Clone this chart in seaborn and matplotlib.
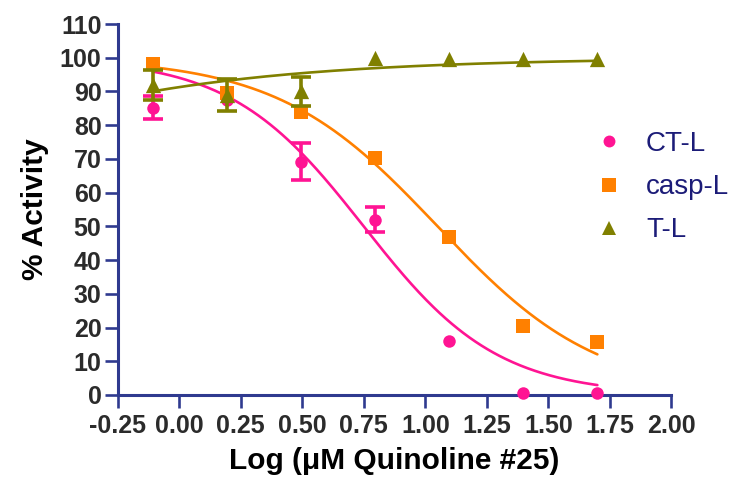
import numpy as np
import pandas as pd
import matplotlib
matplotlib.use("Agg")
import matplotlib.pyplot as plt
import seaborn as sns
from matplotlib.lines import Line2D

# ---- data ----
log_conc = [-0.107, 0.193, 0.495, 0.796, 1.097, 1.398, 1.699]
series_names = ["CT-L", "casp-L", "T-L"]
ctl_mean = [85.2, 87.5, 69.2, 52.0, 16.0, 0.5, 0.5]
ctl_err = [3.4, 0.0, 5.5, 3.7, 0.0, 0.0, 0.0]
casp_mean = [98.0, 89.5, 84.0, 70.4, 46.8, 20.6, 15.6]
casp_err = [0.0, 0.0, 0.0, 0.0, 0.0, 0.0, 0.0]
tl_mean = [92.0, 89.0, 90.0, 100.0, 99.6, 99.6, 99.6]
tl_err = [4.4, 4.7, 4.2, 0.0, 0.0, 0.0, 0.0]

# four-parameter logistic fit parameters: top, bottom, logEC50, hill slope
ctl_fit = [100.0, 0.0, 0.75, -1.6]
casp_fit = [100.0, 0.0, 1.05, -1.33]
tl_fit = [100.0, 0.0, -1.7, 0.6]

x_ticks = [-0.25, 0.00, 0.25, 0.50, 0.75, 1.00, 1.25, 1.50, 1.75, 2.00]
y_ticks = list(range(0, 111, 10))

colors = {"CT-L": "#FF1493", "casp-L": "#FF8000", "T-L": "#808000"}
markers = {"CT-L": "o", "casp-L": "s", "T-L": "^"}
msizes = {"CT-L": 9.0, "casp-L": 10.0, "T-L": 11.0}

means = {"CT-L": ctl_mean, "casp-L": casp_mean, "T-L": tl_mean}
errs = {"CT-L": ctl_err, "casp-L": casp_err, "T-L": tl_err}
fits = {"CT-L": ctl_fit, "casp-L": casp_fit, "T-L": tl_fit}

pts = pd.concat([pd.DataFrame({"x": log_conc, "y": means[s], "err": errs[s], "series": s})
                 for s in series_names], ignore_index=True)


def logistic(x, p):
    top, bottom, logec, hill = p
    return bottom + (top - bottom) / (1.0 + 10 ** ((logec - x) * hill))


xs = np.linspace(min(log_conc), max(log_conc), 300)
curves = pd.concat([pd.DataFrame({"x": xs, "y": logistic(xs, fits[s]), "series": s})
                    for s in series_names], ignore_index=True)

# ---- style ----
sns.set_style("ticks")
plt.rcParams["font.family"] = ["Liberation Sans", "DejaVu Sans"]
axis_col = "#2F3A8F"
tick_txt = "#2b2b2b"

fig = plt.figure(figsize=(7.4, 4.84), dpi=100)
ax = fig.add_axes([0.1588, 0.1839, 0.9074 - 0.1588, 0.9504 - 0.1839])

for i, s in enumerate(series_names):
    z = 3 + i * 3
    sub_c = curves[curves.series == s]
    sns.lineplot(data=sub_c, x="x", y="y", color=colors[s], lw=1.9, ax=ax,
                 legend=False, zorder=z, clip_on=False)
    sub = pts[pts.series == s]
    sns.scatterplot(data=sub, x="x", y="y", color=colors[s], marker=markers[s],
                    s=msizes[s] ** 2, linewidth=0, ax=ax, legend=False,
                    zorder=z + 1, clip_on=False)
    eb = sub[sub.err > 0]
    ax.errorbar(eb.x, eb.y, yerr=eb.err, fmt="none", ecolor=colors[s],
                elinewidth=2.6, capsize=7.0, capthick=2.6, zorder=z + 2, clip_on=False)

ax.set_xlim(-0.25, 2.0)
ax.set_ylim(0, 110)
ax.set_xticks(x_ticks)
ax.set_xticklabels([f"{v:.2f}" for v in x_ticks])
ax.set_yticks(y_ticks)
ax.set_yticklabels([str(v) for v in y_ticks])

for side in ["top", "right"]:
    ax.spines[side].set_visible(False)
for side in ["left", "bottom"]:
    ax.spines[side].set_color(axis_col)
    ax.spines[side].set_linewidth(2.2)

ax.tick_params(axis="both", direction="out", length=9.5, width=1.9, color=axis_col,
               labelsize=18, labelcolor=tick_txt)
ax.tick_params(axis="y", pad=2)
ax.tick_params(axis="x", pad=4)
for lab in ax.get_xticklabels() + ax.get_yticklabels():
    lab.set_fontweight("bold")

ax.set_xlabel("Log (\u03bcM Quinoline #25)", fontsize=21.5, fontweight="bold",
              color="black", labelpad=7)
ax.set_ylabel("% Activity", fontsize=21.5, fontweight="bold", color="black", labelpad=8)

handles = [Line2D([], [], linestyle="none", marker=markers[s], color=colors[s],
                  markersize=msizes[s] * 0.95, markeredgewidth=0) for s in series_names]
fig.legend(handles, series_names, loc="upper left",
           bbox_to_anchor=(596 / 740, 1 - 131 / 484), frameon=False,
           fontsize=20, handlelength=0.95, handletextpad=0.85, labelspacing=0.62,
           borderpad=0, borderaxespad=0, labelcolor="#1C1C78")

fig.savefig("out.png", dpi=100)
